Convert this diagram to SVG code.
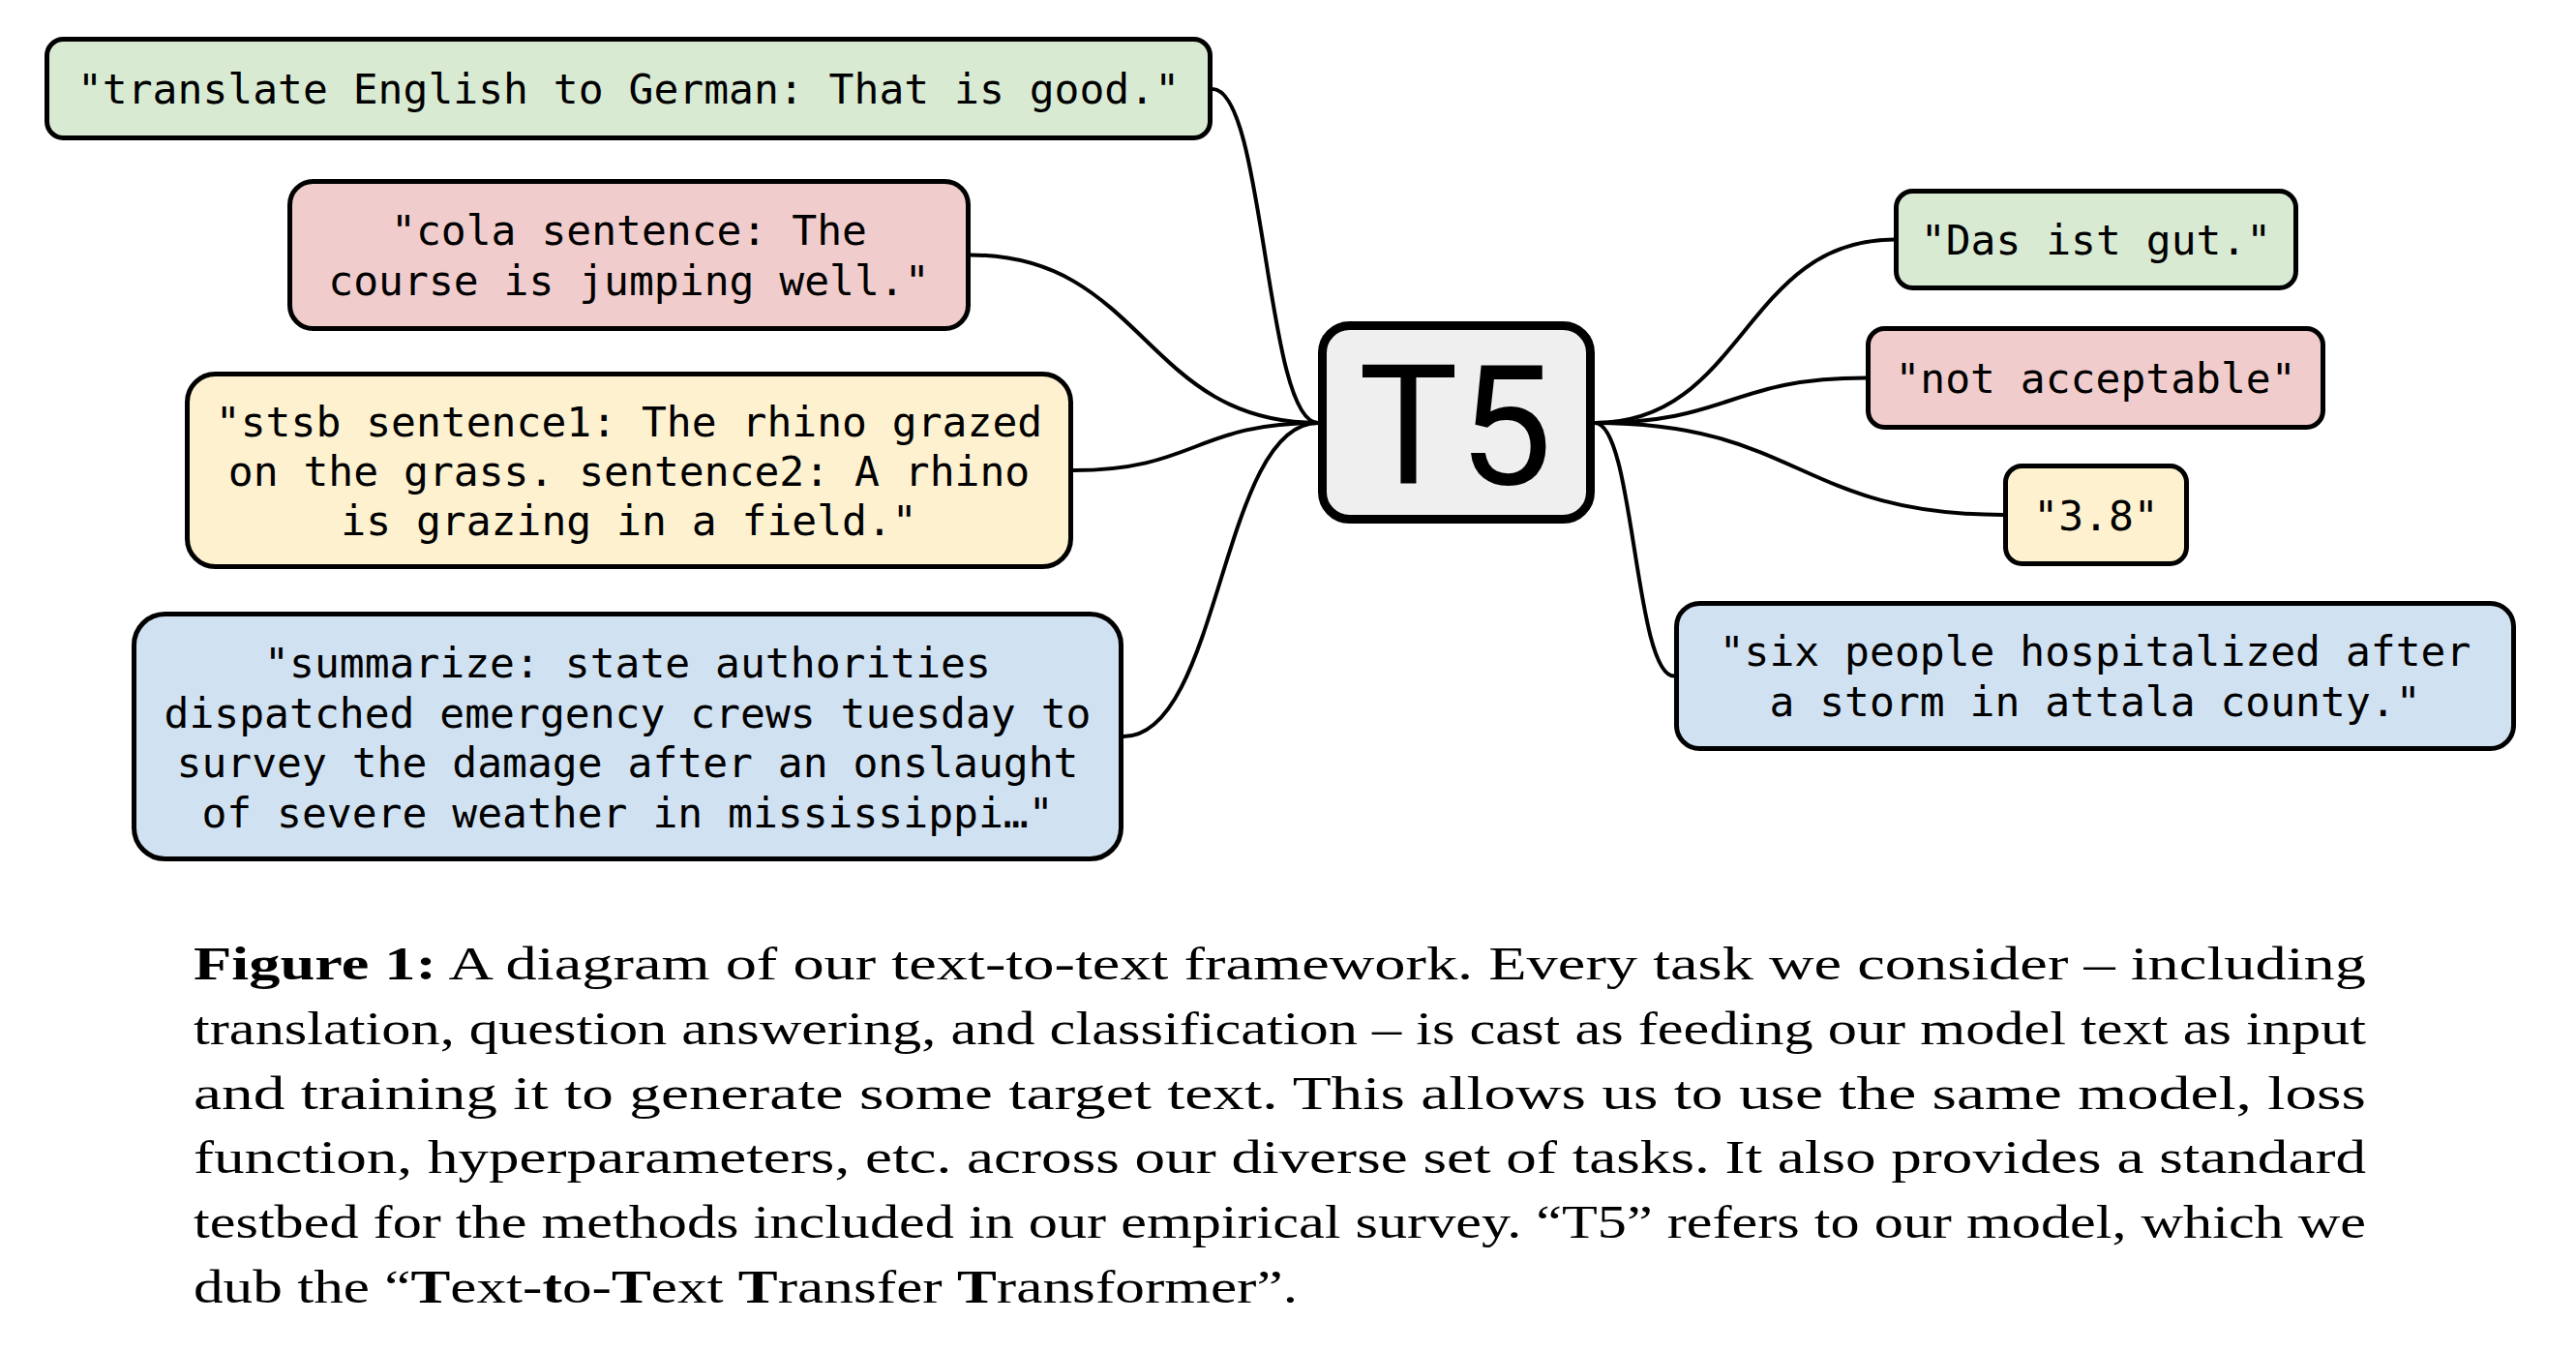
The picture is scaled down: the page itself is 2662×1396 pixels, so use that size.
<svg xmlns="http://www.w3.org/2000/svg" width="2662" height="1396" viewBox="0 0 2662 1396">
<style>
.box{stroke:#000;stroke-width:5}
.g{fill:#d9ead3}.r{fill:#f0cccc}.y{fill:#fdf1d0}.b{fill:#d0e1f1}
.t{font-family:"DejaVu Sans Mono","Liberation Mono",monospace;font-size:43px;fill:#000;text-anchor:middle}
.con{fill:none;stroke:#000;stroke-width:4}
.cap{font-family:"Liberation Serif","Times New Roman",serif;font-size:48px;fill:#000}
.bf{font-weight:bold}
</style>
<rect width="2662" height="1396" fill="#fff"/>
<g id="connectors">
<path class="con" d="M1253 92 C1307.5 92 1307.5 437 1362 437"/>
<path class="con" d="M1003 263.5 C1182.5 263.5 1182.5 437 1362 437"/>
<path class="con" d="M1109 486 C1235.5 486 1235.5 437 1362 437"/>
<path class="con" d="M1161 761 C1261.5 761 1261.5 437 1362 437"/>
<path class="con" d="M1648 437 C1802.5 437 1802.5 247.5 1957 247.5"/>
<path class="con" d="M1648 437 C1788 437 1788 390.5 1928 390.5"/>
<path class="con" d="M1648 437 C1859 437 1859 532 2070 532"/>
<path class="con" d="M1648 437 C1689 437 1689 698.5 1730 698.5"/>
</g>
<g id="n-translate">
<rect class="box g" x="48.5" y="40.5" width="1202" height="102" rx="17"/>
<text class="t" x="649.5" y="107">"translate English to German: That is good."</text>
</g>
<g id="n-cola">
<rect class="box r" x="299.5" y="187.5" width="701" height="152" rx="24"/>
<text class="t" x="650" y="253">"cola sentence: The</text>
<text class="t" x="650" y="305">course is jumping well."</text>
</g>
<g id="n-stsb">
<rect class="box y" x="193.5" y="386.5" width="913" height="199" rx="29"/>
<text class="t" x="650" y="451">"stsb sentence1: The rhino grazed</text>
<text class="t" x="650" y="502">on the grass. sentence2: A rhino</text>
<text class="t" x="650" y="553">is grazing in a field."</text>
</g>
<g id="n-summarize">
<rect class="box b" x="138.5" y="634.5" width="1020" height="253" rx="32"/>
<text class="t" x="648.5" y="700">"summarize: state authorities</text>
<text class="t" x="648.5" y="751.5">dispatched emergency crews tuesday to</text>
<text class="t" x="648.5" y="803">survey the damage after an onslaught</text>
<text class="t" x="648.5" y="854.5">of severe weather in mississippi…"</text>
</g>
<g id="n-t5">
<rect x="1366.5" y="336.5" width="277" height="200" rx="28" fill="#efefef" stroke="#000" stroke-width="9"/>
<text x="1504" y="500" font-family="Roboto,'Liberation Sans',sans-serif" font-size="173" text-anchor="middle" fill="#000">T5</text>
</g>
<g id="n-das">
<rect class="box g" x="1959.5" y="197.5" width="413" height="100" rx="17"/>
<text class="t" x="2166" y="263">"Das ist gut."</text>
</g>
<g id="n-notacc">
<rect class="box r" x="1930.5" y="339.5" width="470" height="102" rx="17"/>
<text class="t" x="2165.5" y="406">"not acceptable"</text>
</g>
<g id="n-38">
<rect class="box y" x="2072.5" y="481.5" width="187" height="101" rx="17"/>
<text class="t" x="2166" y="547.5">"3.8"</text>
</g>
<g id="n-six">
<rect class="box b" x="1732.5" y="623.5" width="865" height="150" rx="24"/>
<text class="t" x="2165" y="688">"six people hospitalized after</text>
<text class="t" x="2165" y="740">a storm in attala county."</text>
</g>
<g id="caption">
<text class="cap" x="200" y="1012" textLength="2245" lengthAdjust="spacingAndGlyphs"><tspan class="bf">Figure 1:</tspan>  A diagram of our text-to-text framework.  Every task we consider – including</text>
<text class="cap" x="200" y="1079" textLength="2245" lengthAdjust="spacingAndGlyphs">translation, question answering, and classification – is cast as feeding our model text as input</text>
<text class="cap" x="200" y="1146" textLength="2245" lengthAdjust="spacingAndGlyphs">and training it to generate some target text.  This allows us to use the same model, loss</text>
<text class="cap" x="200" y="1212" textLength="2245" lengthAdjust="spacingAndGlyphs">function, hyperparameters, etc. across our diverse set of tasks.  It also provides a standard</text>
<text class="cap" x="200" y="1279" textLength="2245" lengthAdjust="spacingAndGlyphs">testbed for the methods included in our empirical survey. “T5” refers to our model, which we</text>
<text class="cap" x="200" y="1346" textLength="1141" lengthAdjust="spacingAndGlyphs">dub the “<tspan class="bf">T</tspan>ext-<tspan class="bf">t</tspan>o-<tspan class="bf">T</tspan>ext <tspan class="bf">T</tspan>ransfer <tspan class="bf">T</tspan>ransformer”.</text>
</g>
</svg>
